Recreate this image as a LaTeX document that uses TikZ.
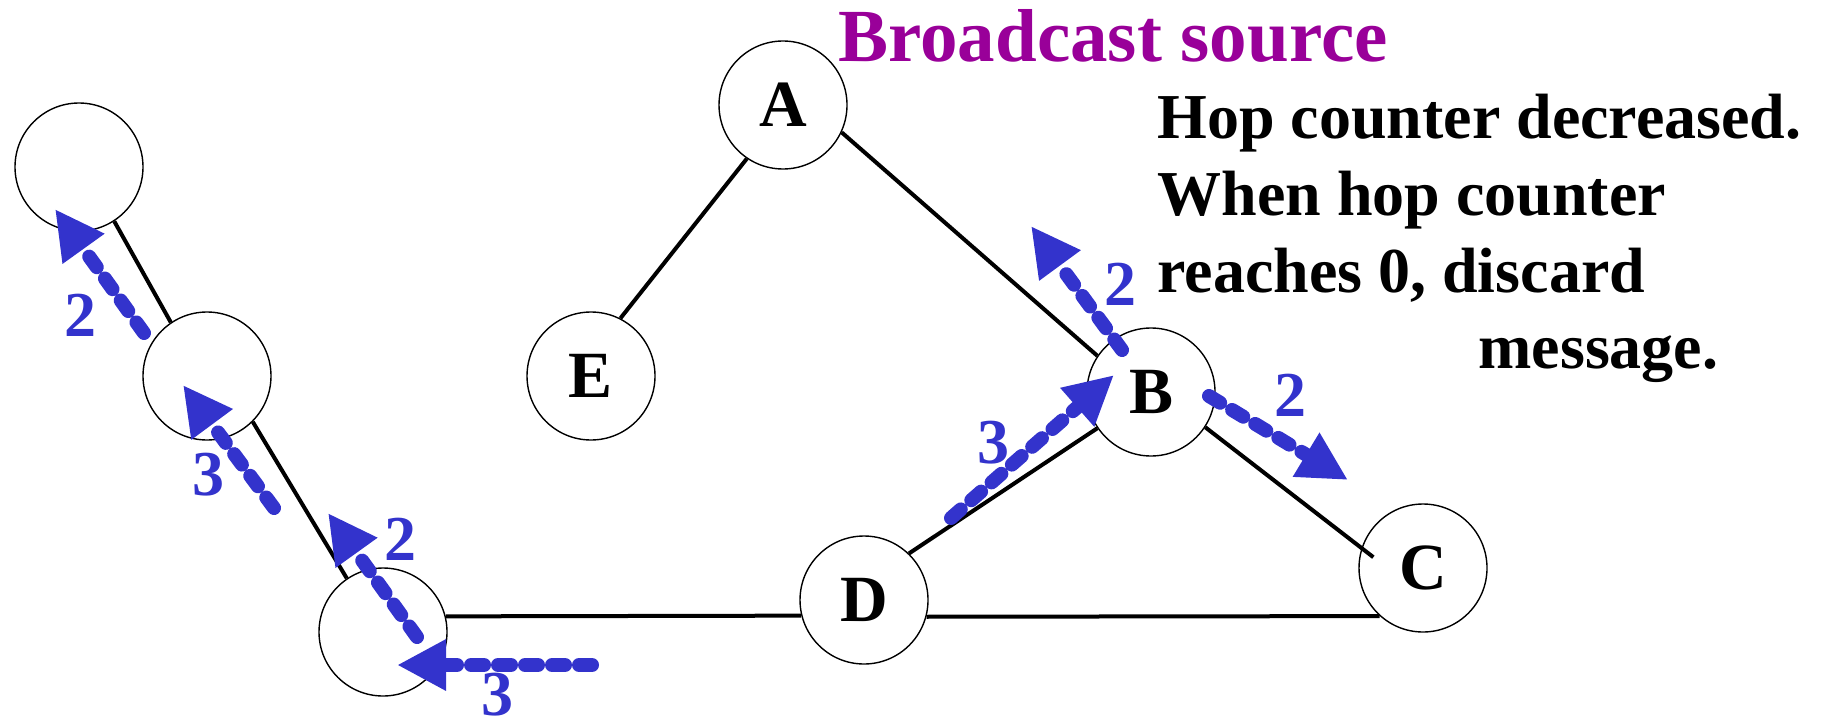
\documentclass[tikz,border=0pt]{standalone}
\usepackage{fontspec}
\setmainfont{Liberation Serif}
\usetikzlibrary{arrows.meta}
\definecolor{hopblue}{RGB}{51,51,204}
\definecolor{srcpurple}{RGB}{153,0,153}
\begin{document}
\begin{tikzpicture}[x=0.5pt,y=-0.5pt,
  station/.style={circle,draw,line width=0.7pt,minimum size=64pt,inner sep=0pt,font=\fontsize{33pt}{33pt}\selectfont\bfseries},
  link/.style={line width=2pt},
  hop/.style={draw=hopblue,line width=7pt,line cap=round,dash pattern=on 6.5pt off 7pt,-{Triangle[length=24.5pt,width=24pt]}},
  hoplabel/.style={text=hopblue,font=\fontsize{32pt}{32pt}\selectfont\bfseries,inner sep=0pt},
  note/.style={anchor=base west,inner sep=0pt,font=\fontsize{32pt}{38pt}\selectfont\bfseries}]
\useasboundingbox (0,0) rectangle (1823,722);

% stations
\node[station] (A) at (783,105) {A};
\node[station] (E) at (591,376) {E};
\node[station] (B) at (1151,392) {B};
\node[station] (C) at (1423,568) {C};
\node[station] (D) at (864,600) {D};
\node[station] (n1) at (79,167) {};
\node[station] (n2) at (207,376) {};
\node[station] (n3) at (383,632) {};

% links
\draw[link] (A.236) -- (E.63);
\draw[link] (A.-25) -- (B.146);
\draw[link] (D.46) -- (B.214);
\draw[link,shorten >=-7.5pt] (B.-33) -- (C.162);
\draw[link] (D.-15) -- (C.228);
\draw[link] (n3.14) -- (D.194);
\draw[link] (n2.-45) -- (n3.124);
\draw[link] (n1.-57) -- (n2.124);

% hop arrows
\coordinate (t1) at (592,665);  \coordinate (h1) at (397,665);
\coordinate (t2) at (417,637);  \coordinate (h2) at (328,513);
\coordinate (t3) at (274,508);  \coordinate (h3) at (183,385);
\coordinate (t4) at (144,333);  \coordinate (h4) at (55,209);
\coordinate (t5) at (951,518);  \coordinate (h5) at (1114,375);
\coordinate (t6) at (1209,396); \coordinate (h6) at (1348,480);
\coordinate (t7) at (1122,350); \coordinate (h7) at (1031,226);
\draw[hop] (t1) -- (h1);
\draw[hop] (t2) -- (h2);
\draw[hop] (t3) -- (h3);
\draw[hop] (t4) -- (h4);
\draw[hop] (t5) -- (h5);
\draw[hop] (t6) -- (h6);
\draw[hop] (t7) -- (h7);

% hop counts
\node[hoplabel] (c1) at (497,695) {3};
\node[hoplabel] (c2) at (400,539) {2};
\node[hoplabel] (c3) at (208,475) {3};
\node[hoplabel] (c4) at (80,315) {2};
\node[hoplabel] (c5) at (993,443) {3};
\node[hoplabel] (c6) at (1290,395) {2};
\node[hoplabel] (c7) at (1120,284) {2};

% texts
\node[anchor=base west,inner sep=0pt,text=srcpurple,font=\fontsize{37.5pt}{40pt}\selectfont\bfseries] (title) at (838,62) {Broadcast source};
\node[note] (l1) at (1157,138) {Hop counter decreased.};
\node[note] (l2) at (1157,215) {When hop counter};
\node[note] (l3) at (1157,292) {reaches 0, discard};
\node[note] (l4) at (1478,368) {message.};
\end{tikzpicture}
\end{document}
